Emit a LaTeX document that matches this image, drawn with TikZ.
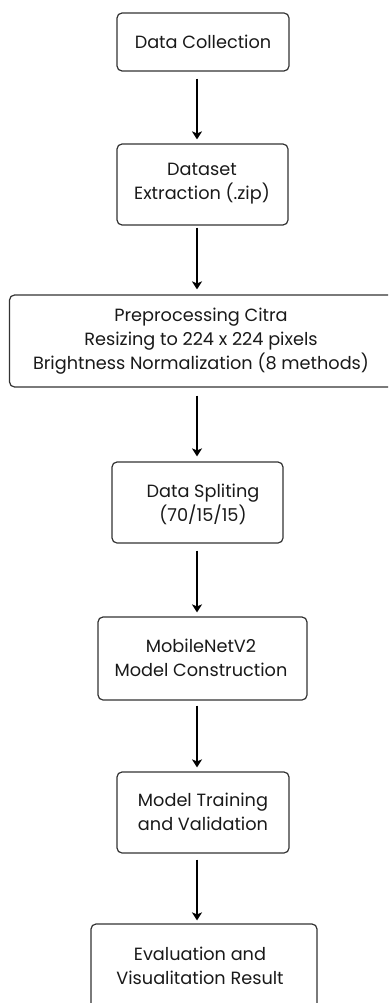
\documentclass[tikz,border=0pt]{standalone}
\usepackage{fontspec}
\setmainfont{Poppins}
\usetikzlibrary{arrows.meta}
\begin{document}
\begin{tikzpicture}[x=1pt,y=-1pt,
  box/.style={draw=black!80, line width=1.2pt, rounded corners=5pt, inner sep=0pt},
  txt/.style={align=center, text=black!90, font=\fontsize{17.7}{24}\selectfont, inner sep=0pt},
  arr/.style={-{Stealth[length=8pt,width=10pt,inset=2pt]}, line width=1.5pt, black}]
\useasboundingbox (0,0) rectangle (388,1003);
\clip (0,0) rectangle (388,1003);
\coordinate (ax) at (197,0);
\node[box, minimum width=172pt, minimum height=58pt] (b1) at (203,42) {};
\node[box, minimum width=171pt, minimum height=81pt] (b2) at (202.5,184.5) {};
\node[box, minimum width=386pt, minimum height=92pt] (b3) at (202.5,341) {};
\node[box, minimum width=171pt, minimum height=81pt] (b4) at (197.5,502.5) {};
\node[box, minimum width=209pt, minimum height=83pt] (b5) at (202.5,658.5) {};
\node[box, minimum width=172pt, minimum height=81pt] (b6) at (203,812.5) {};
\node[box, minimum width=226pt, minimum height=86pt] (b7) at (204,967) {};
\node[txt] (t1) at (203,42) {Data Collection};
\node[txt] (t2) at (202,184) {Dataset\\Extraction (.zip)};
\node[txt] (t3) at (201,341) {Preprocessing Citra\\Resizing to 224 x 224 pixels\\Brightness Normalization (8 methods)};
\node[txt] (t4) at (203,504) {Data Spliting\\(70/15/15)};
\node[txt] (t5) at (201,658) {MobileNetV2\\Model Construction};
\node[txt] (t6) at (203,812) {Model Training\\and Validation};
\node[txt] (t7) at (200,966) {Evaluation and\\Visualitation Result};
\draw[arr, shorten <=7pt, shorten >=4pt] (b1.south -| ax) -- (b2.north -| ax);
\draw[arr, shorten <=2pt, shorten >=5pt] (b2.south -| ax) -- (b3.north -| ax);
\draw[arr, shorten <=8pt, shorten >=5pt] (b3.south -| ax) -- (b4.north -| ax);
\draw[arr, shorten <=7pt, shorten >=4pt] (b4.south -| ax) -- (b5.north -| ax);
\draw[arr, shorten <=5pt, shorten >=4pt] (b5.south -| ax) -- (b6.north -| ax);
\draw[arr, shorten <=6pt, shorten >=3pt] (b6.south -| ax) -- (b7.north -| ax);
\end{tikzpicture}
\end{document}
